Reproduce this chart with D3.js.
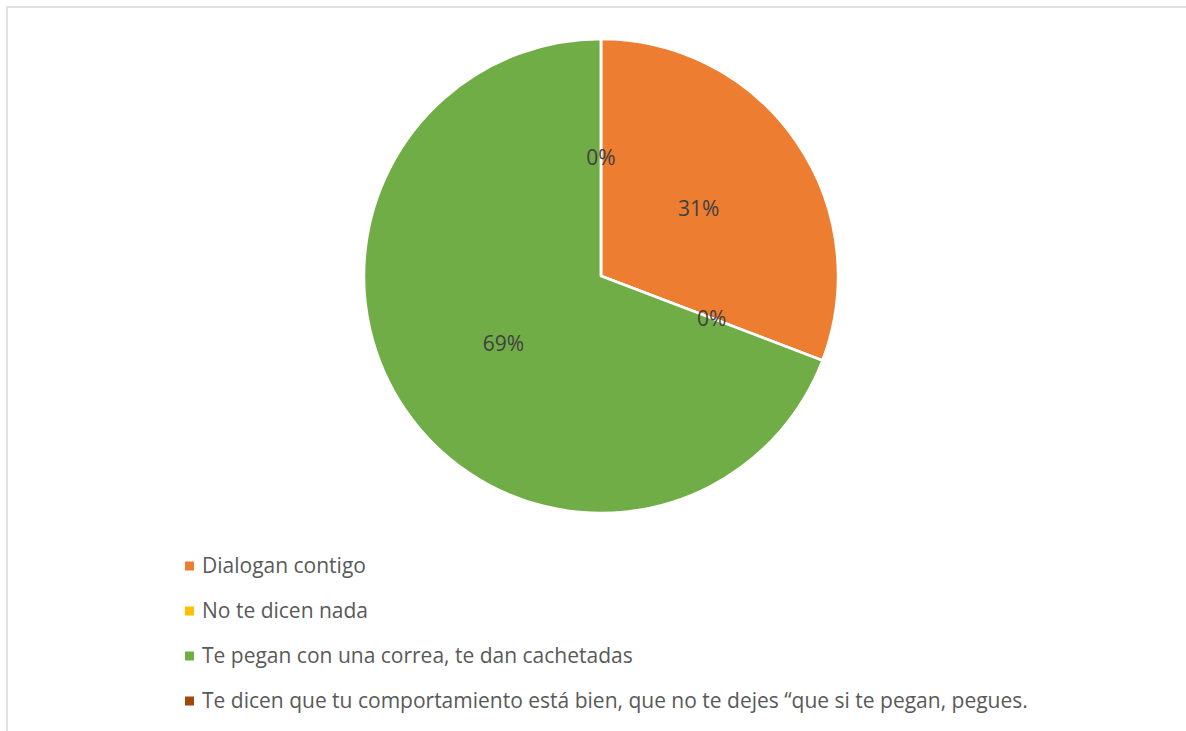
<!DOCTYPE html>
<html><head><meta charset="utf-8">
<script src="https://cdn.jsdelivr.net/npm/d3@7"></script>
<style>body{margin:0;background:#fff;}svg{display:block;}</style>
</head><body>
<svg id="chart" width="1186" height="731"></svg>
<script>
const categories = ["Dialogan contigo", "No te dicen nada", "Te pegan con una correa, te dan cachetadas", "Te dicen que tu comportamiento está bien, que no te dejes “que si te pegan, pegues."];
const values = [30.8, 0, 69.2, 0];
const labels = ["31%", "0%", "69%", "0%"];
const colors = ["#ED7D31", "#FFC000", "#70AD47", "#9E480E"];

const svg = d3.select("#chart");
const W = 1186, H = 731;
svg.append("rect").attr("x", 7).attr("y", 7).attr("width", W + 20).attr("height", H + 20)
  .attr("fill", "#fff").attr("stroke", "#d9d9d9").attr("stroke-width", 1.5);

const cx = 601, cy = 276, r = 237;
const data = categories.map((c, i) => ({c, v: values[i], l: labels[i], col: colors[i]}));
const pie = d3.pie().value(d => d.v).sort(null);
const arcs = pie(data);
const arc = d3.arc().innerRadius(0).outerRadius(r);
const labelArc = d3.arc().innerRadius(r * 0.5).outerRadius(r * 0.5);
const g = svg.append("g").attr("transform", `translate(${cx},${cy})`);
g.selectAll("path").data(arcs).join("path")
  .attr("d", arc).attr("fill", d => d.data.col)
  .attr("stroke", "#fff").attr("stroke-width", 2.5).attr("stroke-linejoin", "round");
g.selectAll("text").data(arcs).join("text")
  .attr("transform", d => `translate(${labelArc.centroid(d)})`)
  .attr("text-anchor", "middle").attr("dy", "0.35em")
  .attr("font-family", "'Open Sans', sans-serif").attr("font-size", 21)
  .attr("fill", "#404040").text(d => d.data.l);

const leg = svg.append("g");
const ly = d3.scalePoint().domain(categories).range([566, 701]);
const items = leg.selectAll("g").data(data).join("g")
  .attr("transform", d => `translate(185,${ly(d.c)})`);
items.append("rect").attr("x", 0).attr("y", -4.5).attr("width", 9).attr("height", 9).attr("fill", d => d.col);
items.append("text").attr("x", 17).attr("dy", "0.35em")
  .attr("font-family", "'Open Sans', sans-serif").attr("font-size", 21)
  .attr("fill", "#595959").text(d => d.c);
</script>
</body></html>
